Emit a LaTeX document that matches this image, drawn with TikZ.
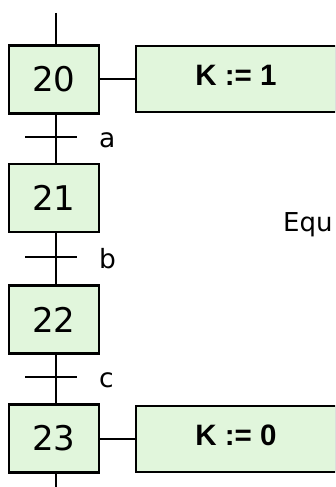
\documentclass[tikz,border=0pt]{standalone}
\usepackage{fontspec}
\newfontfamily\stepfont{DejaVu Sans}
\newfontfamily\actfont{Liberation Sans}
\definecolor{boxfill}{RGB}{225,246,220}
\begin{document}
\begin{tikzpicture}[x=1pt,y=-1pt,
  stepbox/.style={draw, line width=2.4pt, fill=boxfill, minimum width=90pt, minimum height=68pt, inner sep=0pt, font=\stepfont\fontsize{34}{34}\selectfont},
  actbox/.style={draw, line width=2.4pt, fill=boxfill, minimum width=200pt, minimum height=66pt, inner sep=0pt, text depth=7pt, font=\actfont\bfseries\fontsize{29.5}{29.5}\selectfont},
  link/.style={line width=1.7pt},
  trlabel/.style={anchor=base west, inner sep=0pt, font=\stepfont\fontsize{26.5}{26.5}\selectfont},
]
\useasboundingbox (0,0) rectangle (335,487);
\clip (0,0) rectangle (335,487);
\node[stepbox] (s20) at (54,79.5) {20};
\node[stepbox] (s21) at (54,198) {21};
\node[stepbox] (s22) at (54,319.5) {22};
\node[stepbox] (s23) at (54,438.5) {23};
\node[actbox] (a20) at (236,79) {K := 1};
\node[actbox] (a23) at (236,439) {K := 0};
\coordinate (top) at (56,13);
\coordinate (bot) at (56,487);
\coordinate (t1) at (56,137);
\coordinate (t2) at (56,257);
\coordinate (t3) at (56,377);
\draw[link] (top) -- ([xshift=2pt]s20.north);
\draw[link] ([xshift=2pt]s20.south) -- ([xshift=2pt]s21.north);
\draw[link] ([xshift=2pt]s21.south) -- ([xshift=2pt]s22.north);
\draw[link] ([xshift=2pt]s22.south) -- ([xshift=2pt]s23.north);
\draw[link] ([xshift=2pt]s23.south) -- (bot);
\draw[link] ([xshift=-31pt]t1) -- ([xshift=21pt]t1);
\draw[link] ([xshift=-31pt]t2) -- ([xshift=21pt]t2);
\draw[link] ([xshift=-31pt]t3) -- ([xshift=21pt]t3);
\draw[link] (s20.east |- a20.west) -- (a20.west);
\draw[link] (s23.east |- a23.west) -- (a23.west);
\node[trlabel] (la) at (99,147.5) {a};
\node[trlabel] (lb) at (99,268) {b};
\node[trlabel] (lc) at (99,387) {c};
\node[anchor=base west, inner sep=0pt, font=\stepfont\fontsize{26}{26}\selectfont] (equ) at (283,231) {Equ};
\end{tikzpicture}
\end{document}
